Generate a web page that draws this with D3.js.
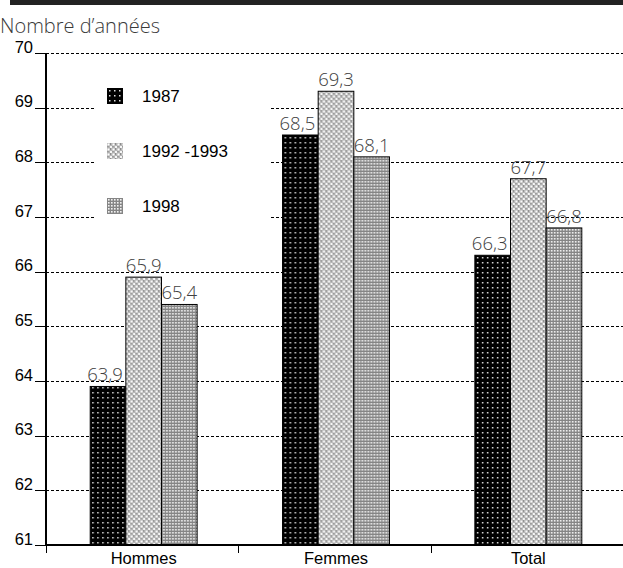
<!DOCTYPE html>
<html>
<head>
<meta charset="utf-8">
<script src="https://cdn.jsdelivr.net/npm/d3@7/dist/d3.min.js"></script>
<style>
  html, body { margin: 0; padding: 0; background: #fff; }
  svg { display: block; }
</style>
</head>
<body>
<svg id="chart" width="623" height="568"></svg>
<script>
// Espérance de vie (nombre d'années) par sexe et par période
const categories = ["Hommes", "Femmes", "Total"];
const seriesNames = ["1987", "1992 -1993", "1998"];
const values1987 = [63.9, 68.5, 66.3];
const values1992 = [65.9, 69.3, 67.7];
const values1998 = [65.4, 68.1, 66.8];
const yTicks = [61, 62, 63, 64, 65, 66, 67, 68, 69, 70];

const series = [values1987, values1992, values1998];
const fmt = v => v.toFixed(1).replace(".", ",");

const svg = d3.select("#chart");
const plotLeft = 46, plotRight = 623, plotTop = 53, plotBottom = 545;

// hatching patterns for the three periods
const defs = svg.append("defs");
const p1 = defs.append("pattern").attr("id", "pat0").attr("patternUnits", "userSpaceOnUse")
  .attr("width", 5).attr("height", 5);
p1.append("rect").attr("width", 5).attr("height", 5).attr("fill", "#000");
p1.append("rect").attr("x", 2).attr("y", 2).attr("width", 1.5).attr("height", 1.5).attr("fill", "#e0e0e0");

const p2 = defs.append("pattern").attr("id", "pat1").attr("patternUnits", "userSpaceOnUse")
  .attr("width", 5).attr("height", 5);
p2.append("rect").attr("width", 5).attr("height", 5).attr("fill", "#b5b5b5");
p2.append("rect").attr("x", 0.5).attr("y", 0.5).attr("width", 2).attr("height", 2).attr("fill", "#fff");
p2.append("rect").attr("x", 3).attr("y", 3).attr("width", 2).attr("height", 2).attr("fill", "#f6f6f6");
p2.append("rect").attr("x", 3).attr("y", 0.5).attr("width", 1).attr("height", 1).attr("fill", "#666");
p2.append("rect").attr("x", 0.5).attr("y", 3.2).attr("width", 1).attr("height", 1).attr("fill", "#777");

const p3 = defs.append("pattern").attr("id", "pat2").attr("patternUnits", "userSpaceOnUse")
  .attr("width", 3).attr("height", 3);
p3.append("rect").attr("width", 3).attr("height", 3).attr("fill", "#858585");
p3.append("rect").attr("x", 1).attr("y", 1).attr("width", 1.6).attr("height", 1.6).attr("fill", "#f2f2f2");

// header band and title
svg.append("rect").attr("x", 10).attr("y", 0).attr("width", 613).attr("height", 5).attr("fill", "#222");
svg.append("text").attr("x", 0).attr("y", 33)
  .attr("font-family", "'Open Sans', sans-serif").attr("font-weight", 300)
  .attr("font-size", 20).attr("fill", "#3a3a3a").text("Nombre d’années");

const y = d3.scaleLinear().domain([61, 70]).range([plotBottom, plotTop]);
const x0 = d3.scaleBand().domain(categories).range([plotLeft + 1.5, plotRight + 1.5])
  .paddingInner(0.444).paddingOuter(0.222);
const x1 = d3.scaleBand().domain(d3.range(series.length)).range([0, x0.bandwidth()]);

// dashed gridlines
svg.append("g").selectAll("line").data(yTicks).join("line")
  .attr("x1", plotLeft).attr("x2", plotRight)
  .attr("y1", d => Math.round(y(d)) + 0.5).attr("y2", d => Math.round(y(d)) + 0.5)
  .attr("stroke", "#000").attr("stroke-width", 1).attr("stroke-dasharray", "3,2");

// y axis: labels sitting on short ticks
const yAxis = svg.append("g");
yAxis.selectAll("line").data(yTicks).join("line")
  .attr("x1", 35).attr("x2", plotLeft)
  .attr("y1", d => Math.round(y(d)) + 0.5).attr("y2", d => Math.round(y(d)) + 0.5)
  .attr("stroke", "#000").attr("stroke-width", 1);
yAxis.selectAll("text").data(yTicks).join("text")
  .attr("x", 33).attr("y", d => y(d) - 0.5).attr("text-anchor", "end")
  .attr("font-family", "'Liberation Sans', Arial, sans-serif").attr("font-size", 16.5)
  .attr("fill", "#000").text(d => d);

// legend background hides the gridlines behind it
svg.append("rect").attr("x", 95).attr("y", 70).attr("width", 176).attr("height", 166).attr("fill", "#fff");
const legend = svg.append("g").selectAll("g").data(seriesNames).join("g")
  .attr("transform", (d, i) => `translate(107,${88 + i * 55})`);
legend.append("rect").attr("width", 16).attr("height", 16)
  .attr("fill", (d, i) => `url(#pat${i})`);
legend.append("text").attr("x", 35).attr("y", 14)
  .attr("font-family", "'Liberation Sans', Arial, sans-serif").attr("font-size", 17)
  .attr("fill", "#000").text(d => d);

// bars
const groups = svg.append("g").selectAll("g").data(categories).join("g")
  .attr("transform", c => `translate(${x0(c)},0)`);
groups.selectAll("rect").data((c, ci) => series.map((s, si) => ({ si, v: s[ci] }))).join("rect")
  .attr("x", d => x1(d.si)).attr("width", x1.bandwidth())
  .attr("y", d => y(d.v)).attr("height", d => y(61) - y(d.v))
  .attr("fill", d => `url(#pat${d.si})`)
  .attr("stroke", "#000").attr("stroke-width", 1);

// value labels
groups.selectAll("text").data((c, ci) => series.map((s, si) => ({ si, v: s[ci] }))).join("text")
  .attr("x", d => x1(d.si) + x1.bandwidth() / 2 - (d.si === 0 ? 3 : 0))
  .attr("y", d => y(d.v) - 5).attr("text-anchor", "middle")
  .attr("font-family", "'Open Sans', sans-serif").attr("font-weight", 300)
  .attr("font-size", 18.5).attr("fill", "#404040").text(d => fmt(d.v));

// axis lines
svg.append("line").attr("x1", plotLeft).attr("x2", plotLeft).attr("y1", plotTop).attr("y2", plotBottom + 1)
  .attr("stroke", "#000").attr("stroke-width", 2);
svg.append("line").attr("x1", plotLeft - 1).attr("x2", plotRight).attr("y1", plotBottom).attr("y2", plotBottom)
  .attr("stroke", "#000").attr("stroke-width", 2);

// category ticks at band boundaries and labels
const boundaries = d3.range(categories.length + 1).map(i => plotLeft + i * x0.step());
svg.append("g").selectAll("line").data(boundaries).join("line")
  .attr("x1", d => Math.round(d) + 0.5).attr("x2", d => Math.round(d) + 0.5)
  .attr("y1", plotBottom).attr("y2", plotBottom + 8)
  .attr("stroke", "#000").attr("stroke-width", 1);
svg.append("g").selectAll("text").data(categories).join("text")
  .attr("x", c => x0(c) + x0.bandwidth() / 2).attr("y", 564).attr("text-anchor", "middle")
  .attr("font-family", "'Liberation Sans', Arial, sans-serif").attr("font-size", 16.5)
  .attr("fill", "#000").text(c => c);
</script>
</body>
</html>
